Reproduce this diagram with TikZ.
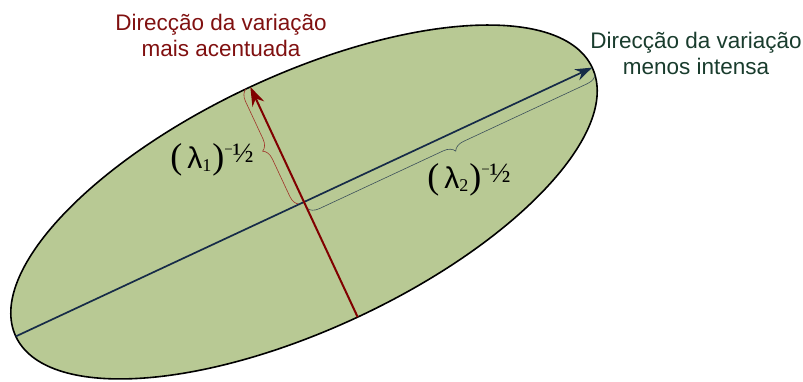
\documentclass[tikz,border=0pt]{standalone}
\usepackage{fontspec}
\setmainfont{Liberation Sans}
\newfontfamily\serifx{Liberation Serif}
\usetikzlibrary{decorations.pathreplacing,arrows.meta}
\definecolor{fillg}{RGB}{184,201,148}
\definecolor{navyx}{RGB}{22,43,72}
\definecolor{dredx}{RGB}{128,0,0}
\definecolor{txtred}{RGB}{128,16,16}
\definecolor{txtgreen}{RGB}{25,60,45}
\definecolor{bracered}{RGB}{160,50,40}
\definecolor{bracegray}{RGB}{60,80,90}
\newcommand{\lamlabel}[1]{%
 {\serifx\fontsize{36}{36}\selectfont(}\hspace{5pt}%
 {\fontsize{30}{30}\selectfont λ}%
 \raisebox{-3pt}{\serifx\fontsize{18}{18}\selectfont #1}\hspace{1pt}%
 {\serifx\fontsize{36}{36}\selectfont)}%
 \raisebox{14pt}{\serifx\fontsize{15}{15}\selectfont −}%
 \raisebox{6pt}{\serifx\fontsize{28}{28}\selectfont ½}}
\tikzset{
  toptext/.style={align=center, inner sep=0pt, anchor=north, font=\fontsize{22.5}{26}\selectfont},
  lamnode/.style={inner sep=0pt},
  bracebox/.style={line width=0.6pt, decorate},
}
\begin{document}
\begin{tikzpicture}[x=1pt,y=1pt]
\useasboundingbox (0,0) rectangle (803,382);
\coordinate (C) at (304,180);
\draw[fill=fillg, line width=1.6pt, rotate around={25:(C)}] (C) ellipse [x radius=318pt, y radius=127pt];
\path (C) ++(25:318pt) coordinate (E);
\path (C) ++(205:318pt) coordinate (W);
\path (C) ++(115:127pt) coordinate (N);
\path (C) ++(295:127pt) coordinate (S);
% braces
\draw[bracebox, bracered, decoration={brace, amplitude=11pt, raise=5pt}] (C) -- (N);
\draw[bracebox, bracegray, decoration={brace, amplitude=11pt, raise=7pt}] (E) -- (C);
% axes
\draw[navyx, line width=1.7pt, -{Stealth[length=17pt,width=12pt]}] (W) -- (E);
\draw[dredx, line width=2pt, -{Stealth[length=19pt,width=13pt]}] (S) -- (N);
% labels
\node[lamnode] (l1) at (212,222) {\lamlabel{1}};
\node[lamnode] (l2) at (469,202) {\lamlabel{2}};
\node[toptext, text=txtred] (t1) at (221,368) {Direcção da variação\\mais acentuada};
\node[toptext, text=txtgreen] (t2) at (696,350) {Direcção da variação\\menos intensa};
\end{tikzpicture}
\end{document}
